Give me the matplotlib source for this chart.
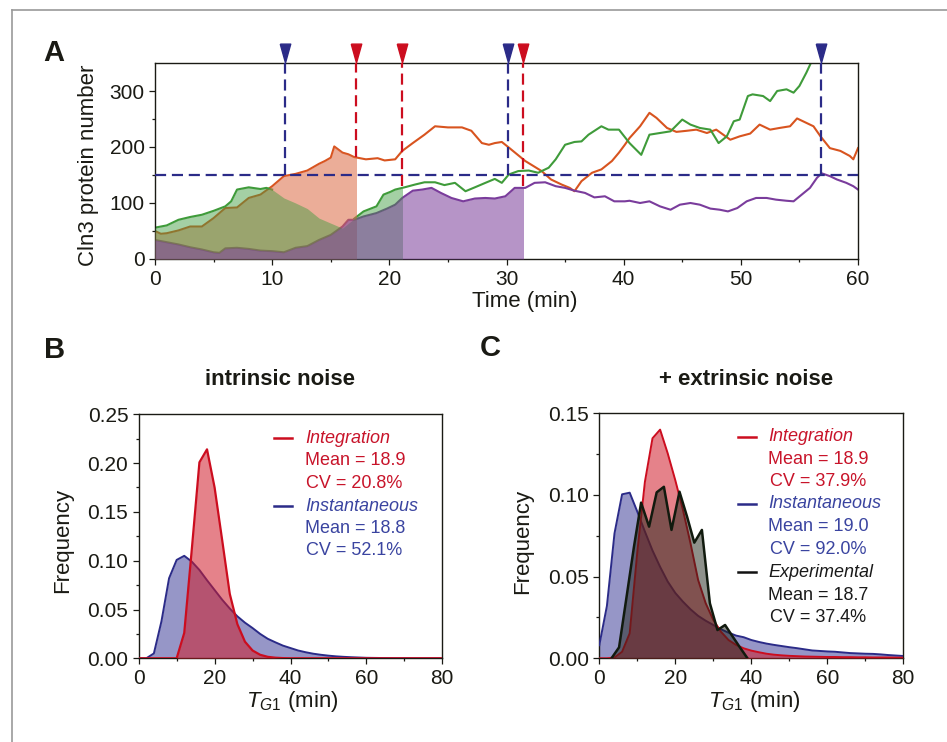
import numpy as np
import matplotlib
matplotlib.use("Agg")
import matplotlib.pyplot as plt
from matplotlib.patches import Rectangle
from matplotlib.lines import Line2D

plt.rcParams['font.family'] = ['Liberation Sans', 'DejaVu Sans']
plt.rcParams['mathtext.fontset'] = 'custom'
plt.rcParams['mathtext.it'] = 'Liberation Sans:italic'
plt.rcParams['mathtext.rm'] = 'Liberation Sans'

INK = '#1a1a14'
RED = '#cc0d1f'
BLUE = '#2b2b88'
RED_TXT = '#c8142a'
BLUE_TXT = '#3a44a0'

# ---- panel A: Cln3 traces ----
t_orange = [0, 0.5, 1, 2, 3, 4, 5, 6, 7, 8, 9, 10, 10.5, 11, 12, 13, 14, 14.5, 15, 15.3,
            16, 16.5, 17, 17.5, 18, 19, 19.6, 20.5, 21.1, 22, 23, 23.9, 25, 26.2, 27, 27.9,
            28.5, 29, 29.6, 30.2, 30.9, 31.6, 32.3, 33, 33.8, 34.7, 35.4, 35.8, 36.4, 37.3,
            38.1, 39, 39.6, 40.1, 40.5, 41.4, 42.2, 42.8, 43.7, 44.5, 45.4, 46.2, 47.1, 47.9,
            48.5, 49.1, 49.9, 50.8, 51.6, 52.5, 53.3, 54.2, 54.8, 55.6, 56.2, 56.8, 57.6,
            58.5, 59.3, 59.6, 60]
v_orange = [50, 45, 46, 51, 58, 58, 73, 91, 92, 109, 115, 130, 139, 148, 152, 158, 170, 175,
            181, 201, 190, 187, 182, 180, 178, 180, 176, 178, 193, 207, 222, 237, 235, 235,
            229, 207, 204, 207, 209, 199, 187, 175, 166, 157, 142, 133, 127, 121, 139, 154,
            160, 175, 190, 204, 216, 237, 261, 252, 234, 227, 229, 231, 225, 231, 222, 213,
            219, 224, 240, 231, 234, 237, 251, 243, 237, 219, 198, 193, 184, 178, 198]

t_green = [0, 1, 2, 3, 4, 5, 6, 6.5, 7, 8, 9, 9.5, 10, 11, 12, 13, 14, 15, 16, 17, 17.8,
           18.9, 19.5, 20.1, 20.5, 21.3, 22.2, 23, 23.9, 24.7, 25.6, 26.5, 27.3, 28.2, 29,
           29.6, 30.2, 31, 31.9, 32.7, 33.6, 34.2, 35, 35.8, 36.4, 37, 38.1, 38.7, 39.6, 40.5,
           41.5, 42.2, 43.1, 44, 45, 45.7, 46.5, 47.4, 48.1, 48.8, 49.4, 49.9, 50.6, 51, 51.9,
           52.5, 53.1, 53.9, 54.5, 55, 55.6, 56.0]
v_green = [56, 60, 70, 75, 79, 86, 94, 103, 124, 128, 125, 127, 124, 109, 100, 90, 73, 64,
           55, 72, 85, 94, 115, 120, 124, 128, 133, 137, 137, 132, 136, 121, 128, 136, 143,
           136, 151, 157, 158, 154, 163, 178, 204, 209, 210, 222, 237, 231, 231, 207, 186,
           222, 225, 228, 249, 240, 234, 231, 207, 219, 246, 249, 291, 294, 291, 282, 300,
           303, 297, 309, 333, 351]

t_purple = [0, 1, 2, 3, 4, 5, 5.5, 6, 7, 8, 9, 10, 11, 12, 13, 14, 15, 16, 16.5, 17, 17.8,
            18.9, 19.8, 20.5, 21.1, 22, 22.8, 23.6, 24.4, 25.3, 26.3, 27.3, 28.2, 29, 29.9,
            30.7, 31.6, 32.4, 33.3, 34.2, 35, 35.8, 36.7, 37.5, 38.4, 39.2, 40.1, 40.5, 41.4,
            42.2, 43.1, 44, 44.8, 45.7, 46.5, 47.4, 48.2, 48.9, 49.7, 50.5, 51.3, 52.2, 53,
            53.9, 54.5, 55.2, 55.9, 56.5, 56.9, 57.6, 58.2, 59, 59.6, 60]
v_purple = [34, 30, 26, 21, 17, 12, 11, 19, 20, 18, 15, 14, 12, 20, 23, 34, 43, 58, 70, 70,
            76, 82, 90, 97, 109, 122, 124, 127, 118, 109, 103, 108, 109, 108, 112, 127, 127,
            136, 137, 130, 127, 122, 118, 110, 112, 103, 103, 104, 100, 103, 94, 88, 97, 100,
            97, 90, 88, 85, 91, 103, 109, 109, 106, 104, 103, 115, 127, 145, 153, 148, 142,
            136, 130, 124]

threshold = 150
# time at which each cell passes Start (integration = red, instantaneous = blue)
t_integ = {'orange': 17.15, 'green': 21.1, 'purple': 31.4}
y_integ_end = {'orange': 182, 'green': 130, 'purple': 130}
t_inst = [11.1, 30.1, 56.8]
# stretch of the green trace that is hidden under the orange area
green_hidden = (10.2, 16.9)

# ---- panels B and C: T_G1 distributions ----
tg_grid = list(range(0, 82, 2))
b_integration = [0, 0, 0, 0, 0, 0, 0.026, 0.112, 0.2008, 0.2141, 0.175, 0.121, 0.066, 0.035,
                 0.017, 0.008, 0.0036, 0.0015, 0.0006, 0.0002] + [0] * 21
b_instant = [0, 0, 0.005, 0.038, 0.082, 0.1008, 0.105, 0.099, 0.0905, 0.080, 0.070, 0.060,
             0.051, 0.043, 0.0365, 0.031, 0.025, 0.020, 0.0164, 0.013, 0.0105, 0.008, 0.0062,
             0.0047, 0.0036, 0.0027, 0.002, 0.0015, 0.0011, 0.0008, 0.0005, 0.0004, 0.0003,
             0.0002, 0.0001, 0.0001, 0, 0, 0, 0, 0]

c_integration = [0, 0, 0.0005, 0.004, 0.0153, 0.065, 0.108, 0.1347, 0.140, 0.1255, 0.109,
                 0.091, 0.0704, 0.048, 0.0337, 0.0235, 0.0163, 0.0112, 0.0082, 0.0061, 0.0047,
                 0.0037, 0.0028, 0.0022, 0.0018, 0.0015, 0.0013, 0.0011, 0.001, 0.0009,
                 0.0008, 0.0008, 0.0007, 0.0007, 0.0006, 0.0006, 0.0005, 0.0005, 0.0005,
                 0.0004, 0.0004]
c_instant = [0.008, 0.032, 0.0765, 0.1004, 0.1014, 0.0898, 0.0776, 0.066, 0.056, 0.047, 0.040,
             0.0347, 0.030, 0.026, 0.023, 0.0204, 0.0178, 0.0157, 0.0139, 0.0129, 0.0112,
             0.010, 0.009, 0.0082, 0.0075, 0.0068, 0.0062, 0.0055, 0.0048, 0.0045, 0.0042,
             0.004, 0.0036, 0.0032, 0.003, 0.0028, 0.0027, 0.0024, 0.002, 0.0017, 0.0014]
c_exp_t = [3.2, 5.2, 7.2, 9.1, 11.0, 13.1, 15.1, 17.0, 19.0, 21.1, 23.1, 25.0, 27.0, 29.1,
           31.1, 33.1, 35.1, 37.0, 39.0]
c_exp = [0, 0.0067, 0.038, 0.068, 0.0953, 0.0806, 0.1016, 0.105, 0.0786, 0.102, 0.0867,
         0.0708, 0.0786, 0.0337, 0.0173, 0.0204, 0.0133, 0.0067, 0]

b_stats = [("Integration", "Mean = 18.9", "CV = 20.8%"),
           ("Instantaneous", "Mean = 18.8", "CV = 52.1%")]
c_stats = [("Integration", "Mean = 18.9", "CV = 37.9%"),
           ("Instantaneous", "Mean = 19.0", "CV = 92.0%"),
           ("Experimental", "Mean = 18.7", "CV = 37.4%")]

fig = plt.figure(figsize=(9.47, 7.42), dpi=100)

# light frame lines at the top/left of the figure
fig.add_artist(Line2D([11.7 / 947, 1], [1 - 10 / 742] * 2, color='#9a9a9a', lw=1.2))
fig.add_artist(Line2D([11.7 / 947] * 2, [0, 1 - 10 / 742], color='#9a9a9a', lw=1.2))


def style_axes(ax):
    for s in ax.spines.values():
        s.set_color(INK)
        s.set_linewidth(1.0)
    ax.tick_params(which='both', direction='out', colors=INK, labelsize=15,
                   top=False, right=False, width=0.9)
    ax.tick_params(which='major', length=4)
    ax.tick_params(which='minor', length=2.5)
    ax.tick_params(axis='x', pad=4)
    ax.tick_params(axis='y', pad=3.5)


# ================= panel A =================
axA = fig.add_axes([155 / 947, 1 - 259 / 742, 703 / 947, 196 / 742])
style_axes(axA)
axA.set_xlim(0, 60)
axA.set_ylim(0, 350)
axA.set_xticks(range(0, 61, 10))
axA.set_xticks(range(5, 60, 10), minor=True)
axA.set_yticks([0, 100, 200, 300])
axA.set_yticks([50, 150, 250], minor=True)

traces = [('orange', t_orange, v_orange, '#d8541f', '#dc6a44', 0.55),
          ('green', t_green, v_green, '#3f9b3a', '#3f9b3f', 0.47),
          ('purple', t_purple, v_purple, '#7a3c9c', '#7a3d9a', 0.55)]
for name, tt, vv, lc, fc, fa in traces:
    tt = np.array(tt, dtype=float)
    vv = np.array(vv, dtype=float)
    if name == 'green':
        vv = np.where((tt > green_hidden[0]) & (tt < green_hidden[1]), np.nan, vv)
    axA.plot(tt, vv, color=lc, lw=1.5, zorder=2)
for name, tt, vv, lc, fc, fa in traces:
    poly = axA.fill_between(tt, 0, vv, color=fc, alpha=fa, lw=0, zorder=3)
    clip = Rectangle((0, 0), t_integ[name], 400, transform=axA.transData)
    poly.set_clip_path(clip)

dash = (0, (5, 2.6))
axA.plot([0, 60], [threshold, threshold], color=BLUE, lw=1.6, linestyle=dash, zorder=5)
for tb in t_inst:
    axA.plot([tb, tb], [threshold, 350], color=BLUE, lw=1.6, linestyle=dash, zorder=5)
for name in ['orange', 'green', 'purple']:
    tr = t_integ[name]
    axA.plot([tr, tr], [y_integ_end[name], 350], color=RED, lw=1.6, linestyle=dash, zorder=5)

tri = [(-0.28, 0.5), (0.28, 0.5), (0.0, -0.5), (-0.28, 0.5)]
axA.plot(t_inst, [367] * len(t_inst), linestyle='none', marker=tri, markersize=13.5,
         color=BLUE, clip_on=False, zorder=6)
axA.plot(list(t_integ.values()), [367] * 3, linestyle='none', marker=tri, markersize=13.5,
         color=RED, clip_on=False, zorder=6)

axA.set_ylabel("Cln3 protein number", fontsize=16, color=INK)
axA.yaxis.set_label_coords(-0.079, 0.48)
axA.set_xlabel("Time (min)", fontsize=16, color=INK)
axA.xaxis.set_label_coords(0.5256, -0.165)


# ================= panels B and C =================
def dist_axes(rect, ymax, ymajor):
    ax = fig.add_axes(rect)
    style_axes(ax)
    ax.set_xlim(0, 80)
    ax.set_ylim(0, ymax)
    ax.set_xticks(range(0, 81, 20))
    ax.set_xticks(range(10, 80, 20), minor=True)
    ax.set_yticks(np.arange(0, ymax + 1e-9, ymajor))
    ax.set_yticks(np.arange(ymajor / 2, ymax, ymajor), minor=True)
    ax.yaxis.set_major_formatter(matplotlib.ticker.FormatStrFormatter('%.2f'))
    ax.set_ylabel("Frequency", fontsize=16, color=INK)
    ax.set_xlabel(r"$\mathit{T_{G1}}$ (min)", fontsize=16, color=INK)
    return ax


def legend_block(ax, x_handle, x_text, ys, entries, colors):
    for (name, mean, cv), (y0, y1, y2), col in zip(entries, ys, colors):
        ax.plot(x_handle, [y0, y0], color=col[0], lw=1.8, transform=ax.transAxes,
                clip_on=False)
        ax.text(x_text, y0, name, color=col[1], style='italic', fontsize=13,
                transform=ax.transAxes, va='center', ha='left')
        ax.text(x_text, y1, mean, color=col[1], fontsize=13,
                transform=ax.transAxes, va='center', ha='left')
        ax.text(x_text + 0.004, y2, cv, color=col[1], fontsize=13,
                transform=ax.transAxes, va='center', ha='left')


axB = dist_axes([138.7 / 947, 1 - 658.3 / 742, 303.6 / 947, 244 / 742], 0.25, 0.05)
axB.fill_between(tg_grid, 0, b_instant, color='#2f2f90', alpha=0.5, lw=0, zorder=2)
axB.plot(tg_grid, b_instant, color=BLUE, lw=1.4, zorder=3)
axB.fill_between(tg_grid, 0, b_integration, color='#d01c2a', alpha=0.55, lw=0, zorder=4)
axB.plot(tg_grid, b_integration, color=RED, lw=1.6, zorder=5)
axB.yaxis.set_label_coords(-0.216, 0.485)
axB.xaxis.set_label_coords(0.507, -0.125)
legend_block(axB, [0.446, 0.505], 0.548,
             [(0.902, 0.809, 0.716), (0.623, 0.530, 0.440)],
             b_stats, [(RED, RED_TXT), (BLUE, BLUE_TXT)])

axC = dist_axes([599.3 / 947, 1 - 658.3 / 742, 304 / 947, 245 / 742], 0.15, 0.05)
axC.fill_between(tg_grid, 0, c_instant, color='#2f2f90', alpha=0.5, lw=0, zorder=2)
axC.plot(tg_grid, c_instant, color=BLUE, lw=1.4, zorder=3)
axC.fill_between(tg_grid, 0, c_integration, color='#d01c2a', alpha=0.55, lw=0, zorder=4)
axC.plot(tg_grid, c_integration, color=RED, lw=1.4, zorder=5)
axC.fill_between(c_exp_t, 0, c_exp, color='#1e2418', alpha=0.5, lw=0, zorder=6)
axC.plot(c_exp_t, c_exp, color='#111a0e', lw=1.8, zorder=7)
axC.yaxis.set_label_coords(-0.217, 0.477)
axC.xaxis.set_label_coords(0.509, -0.125)
legend_block(axC, [0.457, 0.516], 0.556,
             [(0.905, 0.813, 0.721), (0.630, 0.537, 0.446), (0.351, 0.258, 0.167)],
             c_stats, [(RED, RED_TXT), (BLUE, BLUE_TXT), ('#111111', '#1a1a1a')])

# titles and panel letters
fig.text(280 / 947, 1 - 379.3 / 742, "intrinsic noise", fontsize=16, fontweight='bold',
         color=INK, ha='center', va='center')
fig.text(746 / 947, 1 - 379.3 / 742, "+ extrinsic noise", fontsize=16, fontweight='bold',
         color=INK, ha='center', va='center')
for lab, x, y in [("A", 54, 53), ("B", 55, 350), ("C", 490, 348)]:
    fig.text(x / 947, 1 - y / 742, lab, fontsize=21, fontweight='bold', color=INK,
             ha='center', va='center')

fig.savefig("out.png", dpi=100)
